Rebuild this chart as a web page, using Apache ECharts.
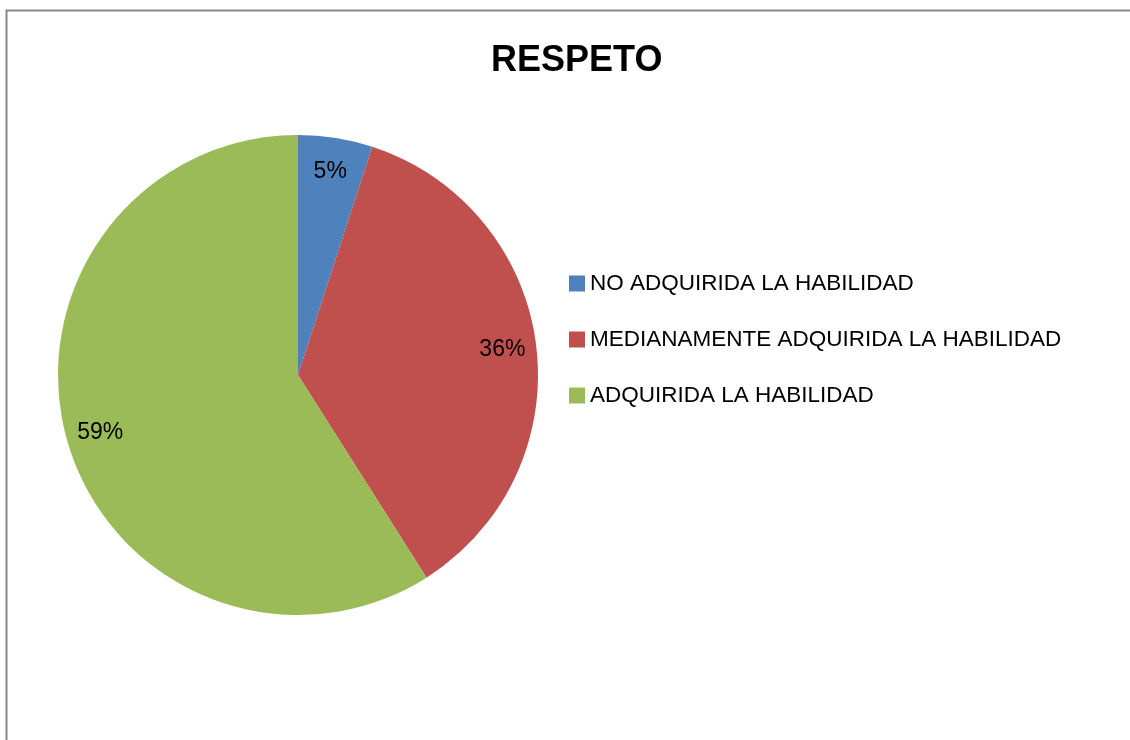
<!DOCTYPE html>
<html>
<head>
<meta charset="utf-8">
<script src="https://cdn.jsdelivr.net/npm/echarts@6/dist/echarts.min.js"></script>
<style>
  html, body { margin: 0; padding: 0; background: #fff; }
  #chart { width: 1130px; height: 740px; }
</style>
</head>
<body>
<div id="chart"></div>
<script>
var categories = ["NO ADQUIRIDA LA HABILIDAD", "MEDIANAMENTE ADQUIRIDA LA HABILIDAD", "ADQUIRIDA LA HABILIDAD"];
var percents = [5, 36, 59];
var colors = ["#4F81BD", "#C0504D", "#9BBB59"];

function pieData() {
    var out = [];
    for (var i = 0; i < categories.length; i++) {
        out.push({ name: categories[i], value: percents[i] });
    }
    return out;
}

var fontName = "Liberation Sans";

var option = {
    animation: false,
    color: colors,
    graphic: [{
        type: "rect",
        left: 4,
        top: 8,
        shape: { width: 1200, height: 800 },
        style: { fill: "none", stroke: "#878787", lineWidth: 2 },
        silent: true
    }],
    title: {
        text: "RESPETO",
        left: 486,
        top: 38,
        textStyle: { fontFamily: fontName, fontSize: 36, fontWeight: "bold", color: "#000" }
    },
    legend: {
        orient: "vertical",
        left: 564,
        top: 267,
        itemWidth: 16,
        itemHeight: 16,
        itemGap: 33,
        icon: "rect",
        data: categories,
        textStyle: { fontFamily: fontName, fontSize: 22.5, lineHeight: 22, color: "#000" }
    },
    series: [{
        type: "pie",
        center: [298, 375],
        radius: 240,
        startAngle: 90,
        clockwise: true,
        silent: true,
        data: pieData(),
        label: { show: false },
        labelLine: { show: false },
        itemStyle: { borderWidth: 0 }
    }, {
        // overlay ring only used to place the percent labels near the rim
        type: "pie",
        center: [298, 375],
        radius: [166, 240],
        startAngle: 90,
        clockwise: true,
        silent: true,
        data: pieData(),
        itemStyle: { color: "transparent", borderWidth: 0 },
        label: {
            show: true,
            position: "inside",
            formatter: function (p) { return p.value + "%"; },
            fontFamily: fontName,
            fontSize: 23,
            color: "#000"
        },
        labelLine: { show: false }
    }]
};

var chart = echarts.init(document.getElementById("chart"));
chart.setOption(option);
</script>
</body>
</html>
